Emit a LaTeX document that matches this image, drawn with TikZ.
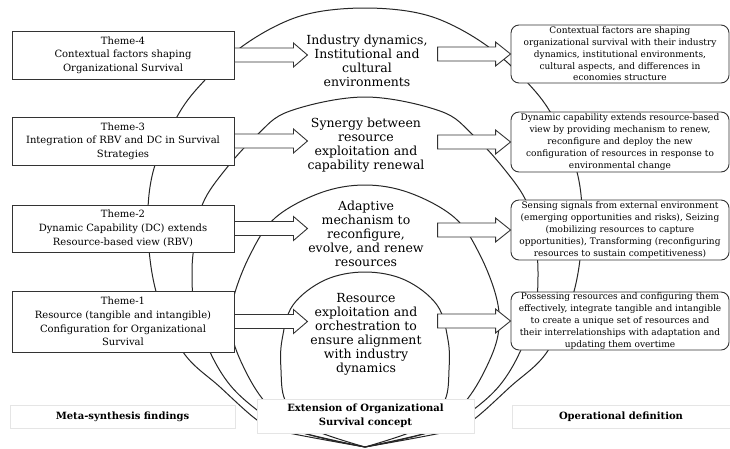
\documentclass[tikz,border=0pt]{standalone}
\usepackage{fontspec}
\setmainfont{DejaVu Serif}
\begin{document}
\begin{tikzpicture}[x=1pt,y=-1pt,
  survloop/.style={line width=1pt, draw=black!85},
  themebox/.style={draw=black!80, line width=0.9pt, fill=white, minimum width=222pt,
    align=center, inner sep=0pt, font=\fontsize{10}{13.6}\selectfont},
  defbox/.style={draw=black!80, line width=0.9pt, fill=white, rounded corners=8pt,
    minimum width=218pt, align=center, inner sep=0pt, font=\fontsize{9}{11.8}\selectfont},
  midtext/.style={align=center, inner sep=0pt, font=\fontsize{12.5}{14}\selectfont},
  blockarrow/.style={draw=black!80, line width=0.9pt, fill=white, line join=miter},
  caption/.style={draw=black!10, fill=white, align=center, inner sep=0pt,
    font=\bfseries\fontsize{10}{14}\selectfont}
]
\useasboundingbox (0,0) rectangle (730,448);
\fill[white] (0,0) rectangle (730,448);

% nested loops, all meeting at the bottom point
\draw[survloop] plot[smooth, tension=0.6] coordinates {
  (365,447) (280,431) (257,420) (220,387) (183,352) (157,295) (148,232) (153,172)
  (178,115) (205,80) (240,48) (280,24) (317,12) (365,8)
  (413,12) (450,24) (490,48) (525,80) (552,115) (577,172) (582,232) (573,295)
  (547,352) (510,387) (473,420) (450,431) (365,447)};
\draw[survloop] plot[smooth, tension=0.6] coordinates {
  (365,447) (285,428) (257,410) (230,385) (210,352) (195,310) (192,272) (195,240)
  (203,203) (225,170) (257,135) (290,111) (365,97)
  (440,111) (473,135) (505,170) (527,203) (535,240) (538,272) (535,310) (520,352)
  (500,385) (473,410) (445,428) (365,447)};
\draw[survloop] plot[smooth, tension=0.6] coordinates {
  (365,447) (295,430) (265,402) (245,370) (232,335) (233,300) (250,255) (275,218)
  (320,193) (365,185)
  (410,193) (455,218) (480,255) (497,300) (498,335) (485,370) (465,402) (435,430)
  (365,447)};
\draw[survloop] plot[smooth, tension=0.6] coordinates {
  (365,447) (305,426) (285,400) (281,370) (282,340) (293,305) (325,280) (365,272)
  (405,280) (437,305) (448,340) (449,370) (445,400) (425,426) (365,447)};

% themes from the meta-synthesis
\node[themebox, minimum height=48pt] (t4) at (123,55)
  {Theme-4\\Contextual factors shaping\\Organizational Survival};
\node[themebox, minimum height=48pt] (t3) at (123,141)
  {Theme-3\\Integration of RBV and DC in Survival\\Strategies};
\node[themebox, minimum height=47pt] (t2) at (123,228.5)
  {Theme-2\\Dynamic Capability (DC) extends\\Resource-based view (RBV)};
\node[themebox, minimum height=61pt] (t1) at (123,321.5)
  {Theme-1\\Resource (tangible and intangible)\\Configuration for Organizational\\Survival};

% operational definitions
\node[defbox, minimum height=58pt] (r4) at (620,54)
  {Contextual factors are shaping\\organizational survival with their industry\\dynamics, institutional environments,\\cultural aspects, and differences in\\economies structure};
\node[defbox, minimum height=60pt] (r3) at (620,142)
  {Dynamic capability extends resource-based\\view by providing mechanism to renew,\\reconfigure and deploy the new\\configuration of resources in response to\\environmental change};
\node[defbox, minimum height=60pt] (r2) at (620,230)
  {Sensing signals from external environment\\(emerging opportunities and risks), Seizing\\(mobilizing resources to capture\\opportunities), Transforming (reconfiguring\\resources to sustain competitiveness)};
\node[defbox, minimum height=58pt] (r1) at (620,321)
  {Possessing resources and configuring them\\effectively, integrate tangible and intangible\\to create a unique set of resources and\\their interrelationships with adaptation and\\updating them overtime};

% extensions inside the loops
\node[midtext] (m4) at (367,61) {Industry dynamics,\\Institutional and\\cultural\\environments};
\node[midtext] (m3) at (366,145) {Synergy between\\resource\\exploitation and\\capability renewal};
\node[midtext] (m2) at (366,234) {Adaptive\\mechanism to\\reconfigure,\\evolve, and renew\\resources};
\node[midtext] (m1) at (366,334) {Resource\\exploitation and\\orchestration to\\ensure alignment\\with industry\\dynamics};

% captions
\node[caption, minimum width=225pt, minimum height=23pt] (cap1) at (122.5,416.5) {Meta-synthesis findings};
\node[caption, minimum width=217pt, minimum height=34pt] (cap2) at (365.5,416) {Extension of Organizational\\Survival concept};
\node[caption, minimum width=218pt, minimum height=23pt] (cap3) at (621,416.5) {Operational definition};

% block arrows: theme -> extension
\foreach \t in {t4,t3,t2,t1}{
  \draw[blockarrow] (\t.east) ++(0,-7) -- ++(59,0) -- ++(0,-5) -- ++(14,12)
    -- ++(-14,12) -- ++(0,-5) -- ++(-59,0) -- cycle;
}
% block arrows: extension -> definition
\foreach \r in {r4,r3,r2,r1}{
  \draw[blockarrow] (\r.west) -- ++(-15,-12) -- ++(0,5) -- ++(-58,0) -- ++(0,14)
    -- ++(58,0) -- ++(0,5) -- cycle;
}
\end{tikzpicture}
\end{document}
